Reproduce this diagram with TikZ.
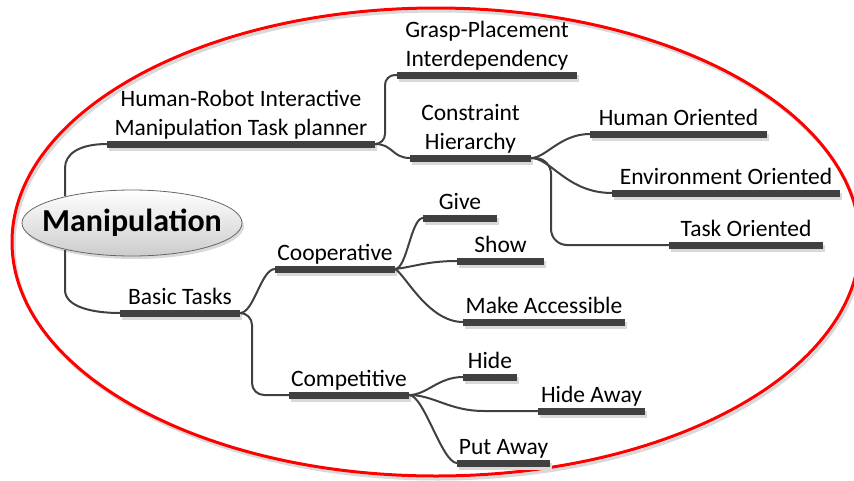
\documentclass[tikz,border=0pt]{standalone}
\usepackage{fontspec}
\setmainfont{Carlito}
\usetikzlibrary{shapes.geometric,shadows}
\definecolor{barc}{HTML}{404040}
\newcommand\mmleaf[5]{%
  \node[bar, minimum width={#3-#2}] (#1) at ({(#2+#3)/2},#4) {};
  \node[lbl] (#1-t) at (#1.north) {#5\strut};}
\begin{document}
\begin{tikzpicture}[x=1pt,y=-1pt,
  bar/.style={rectangle, fill=barc, inner sep=0pt, outer sep=0pt, minimum height=7pt,
    drop shadow={shadow xshift=2pt, shadow yshift=-3pt, fill=black!15, opacity=1}},
  lbl/.style={anchor=south, inner sep=0pt, yshift=-3.5pt, align=center, font=\fontsize{23.5}{29}\selectfont},
  conn/.style={draw=barc, line width=2pt},
  rootshape/.style={draw=black!60, line width=0.8pt, top color=white, bottom color=black!20,
    drop shadow={shadow xshift=2pt, shadow yshift=-3pt, fill=black!15, opacity=1}},
  roottext/.style={inner sep=0pt, font=\bfseries\fontsize{32}{38}\selectfont},
]
\useasboundingbox (0,0) rectangle (854,480);
% frame ellipse
\draw[black!15, line width=3pt] (438,245) ellipse [x radius=424, y radius=234];
\draw[red, line width=3pt] (436,242) ellipse [x radius=424, y radius=234];

% root
\path[rootshape] (132,223) ellipse [x radius=110, y radius=33];
\node[roottext] (root) at (132,223) {Manipulation};
\coordinate (rtop) at (65,196);
\coordinate (rbot) at (65,250);

% bars and labels
\mmleaf{hr}{107}{375}{144}{Human-Robot Interactive\\Manipulation Task planner}
\mmleaf{gp}{397}{577}{75}{Grasp-Placement\\Interdependency}
\mmleaf{ch}{410}{531}{158}{Constraint\\Hierarchy}
\mmleaf{ho}{590}{767}{134}{Human Oriented}
\mmleaf{eo}{612}{840}{193}{Environment Oriented}
\mmleaf{tor}{669}{823}{245}{Task Oriented}
\mmleaf{bt}{120}{240}{313}{Basic Tasks}
\mmleaf{coop}{275}{395}{269}{Cooperative}
\mmleaf{give}{423}{497}{218}{Give}
\mmleaf{show}{457}{544}{261}{Show}
\mmleaf{ma}{463}{625}{322}{Make Accessible}
\mmleaf{comp}{289}{409}{395}{Competitive}
\mmleaf{hide}{463}{517}{377}{Hide}
\mmleaf{ha}{538}{645}{411}{Hide Away}
\mmleaf{pa}{457}{550}{463}{Put Away}

% connectors
\draw[conn] (rtop) -- ++(0,-28) .. controls +(0,-14) and +(-28,0) .. (hr.west);
\draw[conn] (rbot) -- ++(0,40) .. controls +(0,16) and +(-30,0) .. (bt.west);
\draw[conn, rounded corners=10pt] (hr.east) -- ++(10,0) |- (gp.west);
\draw[conn] (hr.east) .. controls +(18,0) and +(-18,0) .. (ch.west);
\draw[conn] (ch.east) .. controls +(15,0) and +(-30,0) .. (ho.west);
\draw[conn] (ch.east) .. controls +(20,0) and +(-45,0) .. (eo.west);
\draw[conn, rounded corners=16pt] (ch.east) -- ++(20,0) |- (tor.west);
\draw[conn] (bt.east) .. controls +(14,0) and +(-14,0) .. (coop.west);
\draw[conn, rounded corners=12pt] (bt.east) -- ++(12,0) |- (comp.west);
\draw[conn] (coop.east) .. controls +(12,0) and +(-12,0) .. (give.west);
\draw[conn] (coop.east) .. controls +(18,-2) and +(-30,0) .. (show.west);
\draw[conn] (coop.east) .. controls +(10,5) and +(-35,0) .. (ma.west);
\draw[conn] (comp.east) .. controls +(18,0) and +(-25,0) .. (hide.west);
\draw[conn] (comp.east) .. controls +(25,0) and +(-35,0) .. +(75,16) -- (ha.west);
\draw[conn] (comp.east) .. controls +(15,0) and +(-15,0) .. (pa.west);
\end{tikzpicture}
\end{document}
